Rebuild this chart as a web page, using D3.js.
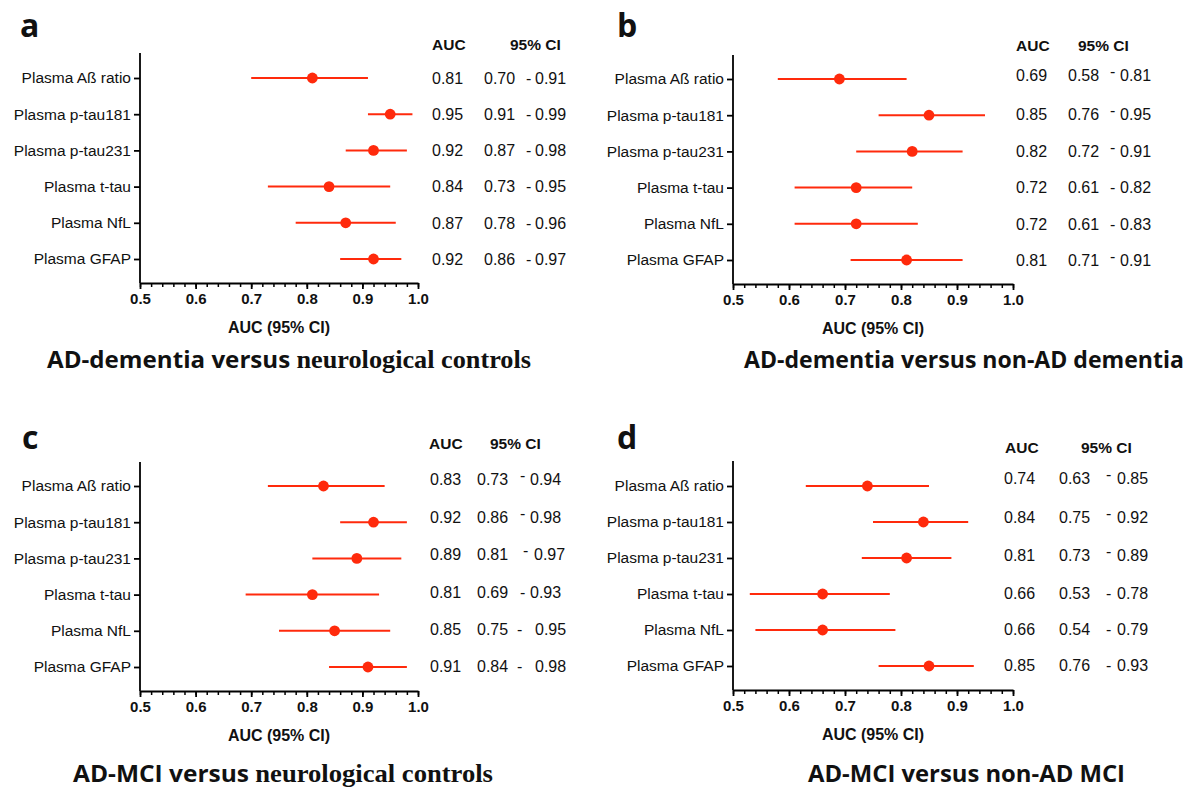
<!DOCTYPE html>
<html>
<head>
<meta charset="utf-8">
<script src="https://cdn.jsdelivr.net/npm/d3@7"></script>
<style>
  body { margin: 0; background: #fff; }
  text { font-family: "Liberation Sans", Arial, sans-serif; fill: #111; }
</style>
</head>
<body>
<svg id="chart" width="1191" height="791"></svg>
<script>
// biomarkers, top to bottom
const markers = ["Plasma A\u00df ratio", "Plasma p-tau181", "Plasma p-tau231", "Plasma t-tau", "Plasma NfL", "Plasma GFAP"];
const xTicks = [0.5, 0.6, 0.7, 0.8, 0.9, 1.0];

// a: AD-dementia vs neurological controls
const aucA  = [0.81, 0.95, 0.92, 0.84, 0.87, 0.92];
const lowA  = [0.70, 0.91, 0.87, 0.73, 0.78, 0.86];
const highA = [0.91, 0.99, 0.98, 0.95, 0.96, 0.97];

// b: AD-dementia vs non-AD dementia
const aucB  = [0.69, 0.85, 0.82, 0.72, 0.72, 0.81];
const lowB  = [0.58, 0.76, 0.72, 0.61, 0.61, 0.71];
const highB = [0.81, 0.95, 0.91, 0.82, 0.83, 0.91];

// c: AD-MCI vs neurological controls
const aucC  = [0.83, 0.92, 0.89, 0.81, 0.85, 0.91];
const lowC  = [0.73, 0.86, 0.81, 0.69, 0.75, 0.84];
const highC = [0.94, 0.98, 0.97, 0.93, 0.95, 0.98];

// d: AD-MCI vs non-AD MCI
const aucD  = [0.74, 0.84, 0.81, 0.66, 0.66, 0.85];
const lowD  = [0.63, 0.75, 0.73, 0.53, 0.54, 0.76];
const highD = [0.85, 0.92, 0.89, 0.78, 0.79, 0.93];

const titleA = ["AD-dementia versus ", "neurological controls"];
const titleB = ["AD-dementia versus non-AD dementia"];
const titleC = ["AD-MCI versus ", "neurological controls"];
const titleD = ["AD-MCI versus non-AD MCI"];

const red = "#ff2a0c";
const fmt = d3.format(".2f");

// layout of each panel (pixels)
const panels = [
  { letter: "a", title: titleA, auc: aucA, lo: lowA, hi: highA,
    x0: 140, x1: 418, top: 53, base: 283, r1: 78, r6: 259,
    lx: 20, ly: 37, hy: 50, hAuc: 432, hCi: 510,
    cAuc: 432, cLo: 484, cDash: [526,526,526,526,526,526], cHi: [535,535,535,535,535,535],
    raised: [0,0,0,0,0,0], vdy: [0,0,0,0,0,0],
    tx: 47, ty: 368, tw: 484 },
  { letter: "b", title: titleB, auc: aucB, lo: lowB, hi: highB,
    x0: 733, x1: 1013, top: 55, base: 284, r1: 79, r6: 260,
    lx: 617, ly: 37, hy: 51, hAuc: 1016, hCi: 1078,
    cAuc: 1016, cLo: 1068, cDash: [1110,1110,1110,1110,1110,1110], cHi: [1120,1120,1120,1120,1120,1120],
    raised: [1,1,1,0,0,1], vdy: [-4,-1,0,0,0,0],
    tx: 744, ty: 368, tw: 440 },
  { letter: "c", title: titleC, auc: aucC, lo: lowC, hi: highC,
    x0: 140, x1: 418, top: 462, base: 691, r1: 486, r6: 667,
    lx: 22, ly: 449, hy: 449, hAuc: 429, hCi: 490,
    cAuc: 430, cLo: 477, cDash: [520,520,523,520,517,517], cHi: [530,530,534,530,535,535],
    raised: [1,1,1,0,0,0], vdy: [-7,-5,-4,-2,-2,-1],
    tx: 73, ty: 782, tw: 420 },
  { letter: "d", title: titleD, auc: aucD, lo: lowD, hi: highD,
    x0: 733, x1: 1013, top: 461, base: 690, r1: 486, r6: 666,
    lx: 617, ly: 449, hy: 453, hAuc: 1005, hCi: 1081,
    cAuc: 1004, cLo: 1059, cDash: [1106,1106,1106,1106,1106,1106], cHi: [1117,1117,1117,1117,1117,1117],
    raised: [1,1,1,0,0,0], vdy: [-8,-5,-3,-1,-1,-1],
    tx: 808, ty: 782, tw: 317 }
];

const svg = d3.select("#chart");

panels.forEach(p => {
  const g = svg.append("g");

  const x = d3.scaleLinear().domain([0.5, 1.0]).range([p.x0, p.x1]);
  const y = d3.scalePoint().domain(markers).range([p.r1, p.r6]);

  // panel letter
  g.append("text")
    .attr("x", p.lx).attr("y", p.ly)
    .style("font-family", "'Open Sans', sans-serif")
    .style("font-weight", 700)
    .style("font-size", "32px")
    .text(p.letter);

  // y axis
  g.append("line")
    .attr("x1", p.x0).attr("x2", p.x0)
    .attr("y1", p.top).attr("y2", p.base)
    .attr("stroke", "#000").attr("stroke-width", 1.8);

  const yAxis = g.append("g")
    .attr("transform", `translate(${p.x0},0)`)
    .call(d3.axisLeft(y).tickSize(6).tickSizeOuter(0).tickPadding(3));
  yAxis.select(".domain").remove();
  yAxis.selectAll("line").attr("stroke", "#000").attr("stroke-width", 1.8);
  yAxis.selectAll("text")
    .style("font-family", "'Liberation Sans', Arial, sans-serif")
    .style("font-size", "15.5px")
    .attr("fill", "#111");

  // x axis, minor then major ticks
  const minor = d3.range(0, 26).map(i => 0.5 + i * 0.02);
  const xMinor = g.append("g")
    .attr("transform", `translate(0,${p.base})`)
    .call(d3.axisBottom(x).tickValues(minor).tickSize(4).tickFormat(""));
  xMinor.select(".domain").remove();
  xMinor.selectAll("line").attr("stroke", "#000").attr("stroke-width", 1.5);

  const xAxis = g.append("g")
    .attr("transform", `translate(0,${p.base})`)
    .call(d3.axisBottom(x).tickValues(xTicks).tickSize(6).tickSizeOuter(0)
      .tickFormat(d3.format(".1f")).tickPadding(4));
  xAxis.select(".domain").attr("stroke", "#000").attr("stroke-width", 1.8);
  xAxis.selectAll("line").attr("stroke", "#000").attr("stroke-width", 1.8);
  xAxis.selectAll("text")
    .style("font-family", "'Liberation Sans', Arial, sans-serif")
    .style("font-weight", 700)
    .style("font-size", "15px")
    .attr("fill", "#111");

  g.append("text")
    .attr("x", (p.x0 + p.x1) / 2).attr("y", p.base + 50)
    .attr("text-anchor", "middle")
    .style("font-weight", 700).style("font-size", "16px")
    .text("AUC (95% CI)");

  // CI bars and points
  g.selectAll(".ci").data(markers).join("line")
    .attr("x1", (d, i) => x(p.lo[i])).attr("x2", (d, i) => x(p.hi[i]))
    .attr("y1", d => y(d)).attr("y2", d => y(d))
    .attr("stroke", red).attr("stroke-width", 2);

  g.selectAll(".pt").data(markers).join("circle")
    .attr("cx", (d, i) => x(p.auc[i])).attr("cy", d => y(d))
    .attr("r", 5.4).attr("fill", red);

  // table headers
  g.append("text").attr("x", p.hAuc).attr("y", p.hy)
    .style("font-weight", 700).style("font-size", "15.5px").text("AUC");
  g.append("text").attr("x", p.hCi).attr("y", p.hy)
    .style("font-weight", 700).style("font-size", "15.5px").text("95% CI");

  // table values
  const rows = g.selectAll(".row").data(markers).join("g")
    .attr("transform", (d, i) => `translate(0,${y(d) + p.vdy[i]})`)
    .style("font-size", "16px");
  rows.append("text").attr("x", p.cAuc).attr("dy", "0.36em").text((d, i) => fmt(p.auc[i]));
  rows.append("text").attr("x", p.cLo).attr("dy", "0.36em").text((d, i) => fmt(p.lo[i]));
  rows.append("text").attr("x", (d, i) => p.cDash[i])
    .attr("y", (d, i) => p.raised[i] ? -4 : 0)
    .attr("dy", "0.36em").text("-");
  rows.append("text").attr("x", (d, i) => p.cHi[i]).attr("dy", "0.36em").text((d, i) => fmt(p.hi[i]));

  // panel title
  const t = g.append("text")
    .attr("x", p.tx).attr("y", p.ty)
    .attr("textLength", p.tw).attr("lengthAdjust", "spacingAndGlyphs")
    .style("font-family", "'Open Sans', sans-serif")
    .style("font-weight", 700).style("font-size", "23px");
  t.append("tspan").text(p.title[0]);
  if (p.title[1]) {
    t.append("tspan")
      .style("font-family", "'Liberation Serif', 'DejaVu Serif', serif")
      .style("font-size", "25px")
      .text(p.title[1]);
  }
});
</script>
</body>
</html>
